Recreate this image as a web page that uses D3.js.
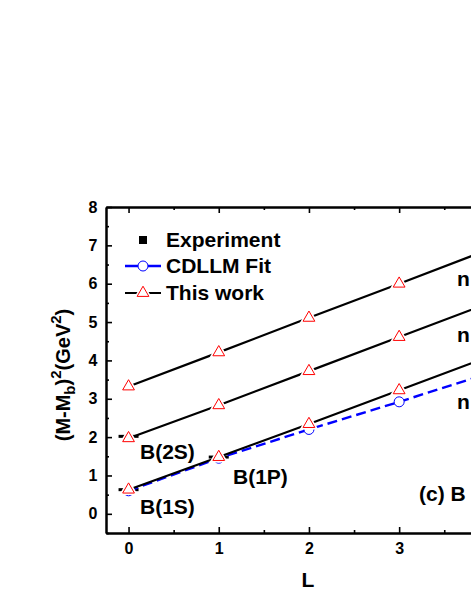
<!DOCTYPE html>
<html>
<head>
<meta charset="utf-8">
<script src="https://cdn.jsdelivr.net/npm/d3@7"></script>
<style>
  body { margin: 0; background: #fff; }
  svg { display: block; font-family: "Liberation Sans", Arial, sans-serif; font-weight: bold; }
</style>
</head>
<body>
<svg width="471" height="609"></svg>
<script>
// orbital quantum number L
var L = [0, 1, 2, 3, 4];
// "This work" Regge trajectories, one per radial n
var thisN1 = [0.63, 1.48, 2.34, 3.22, 4.10];
var thisN2 = [1.97, 2.83, 3.72, 4.61, 5.50];
var thisN3 = [3.32, 4.21, 5.11, 6.00, 6.90];
// CDLLM fit
var cdllm = [0.60, 1.45, 2.20, 2.92, 3.67];
// experiment
var expL = [0, 0, 1];
var expM = [0.63, 2.02, 1.48];
var expNames = ["B(1S)", "B(2S)", "B(1P)"];
var trajNames = ["n", "n", "n"];   // cut at the right edge in the original
var xTicks = [0, 1, 2, 3];
var yTicks = [0, 1, 2, 3, 4, 5, 6, 7, 8];

var svg = d3.select("svg");
var xScale = d3.scaleLinear().domain([-0.25, 4.25]).range([106, 511.9]);
var yScale = d3.scaleLinear().domain([-0.5, 8]).range([533, 207]);

svg.append("clipPath").attr("id", "plot")
  .append("rect").attr("x", 106).attr("y", 207).attr("width", 406).attr("height", 326);

var plot = svg.append("g").attr("clip-path", "url(#plot)");

var line = d3.line().x((d, i) => xScale(L[i])).y(d => yScale(d));

// experiment: short horizontal bars
plot.selectAll("rect.exp")
  .data(expM).enter().append("rect").attr("class", "exp")
  .attr("x", (d, i) => xScale(expL[i]) - 10)
  .attr("y", d => yScale(d) - 1.5)
  .attr("width", 20).attr("height", 3)
  .attr("fill", "black");

// CDLLM fit
plot.append("path").attr("d", line(cdllm))
  .attr("fill", "none").attr("stroke", "#0000ff").attr("stroke-width", 2.4)
  .attr("stroke-dasharray", "10,5");
plot.selectAll("circle.cd")
  .data(cdllm).enter().append("circle").attr("class", "cd")
  .attr("cx", (d, i) => xScale(L[i])).attr("cy", d => yScale(d))
  .attr("r", 5).attr("fill", "white").attr("stroke", "#0000ff").attr("stroke-width", 1);

// this work
var tri = d3.symbol().type(d3.symbolTriangle).size(60);
[thisN1, thisN2, thisN3].forEach(function(s) {
  plot.append("path").attr("d", line(s))
    .attr("fill", "none").attr("stroke", "black").attr("stroke-width", 2.2);
  plot.selectAll(null)
    .data(s).enter().append("path")
    .attr("d", tri)
    .attr("transform", (d, i) => "translate(" + xScale(L[i]) + "," + yScale(d) + ")")
    .attr("fill", "white").attr("stroke", "white").attr("stroke-width", 4);
  plot.selectAll(null)
    .data(s).enter().append("path")
    .attr("d", tri)
    .attr("transform", (d, i) => "translate(" + xScale(L[i]) + "," + yScale(d) + ")")
    .attr("fill", "white").attr("stroke", "#ff0000").attr("stroke-width", 1);
});

// axes, ticks pointing inward
function styleAxis(g) {
  g.selectAll("path.domain").attr("stroke-width", 2);
  g.selectAll(".tick line").attr("stroke-width", 1.6);
  g.selectAll("text").attr("font-size", 16).attr("font-family", null).attr("fill", "black");
}
var minorX = [0.5, 1.5, 2.5, 3.5];
var minorY = [-0.5, 0.5, 1.5, 2.5, 3.5, 4.5, 5.5, 6.5, 7.5];

svg.append("g").attr("transform", "translate(0,533)")
  .call(d3.axisBottom(xScale).tickValues(xTicks).tickSize(-6).tickSizeOuter(0).tickPadding(10).tickFormat(d3.format("d")))
  .call(styleAxis);
svg.append("g").attr("transform", "translate(0,533)")
  .call(d3.axisBottom(xScale).tickValues(minorX).tickSize(-3).tickSizeOuter(0).tickFormat(""))
  .call(styleAxis);
svg.append("g").attr("transform", "translate(0,207)")
  .call(d3.axisTop(xScale).tickValues(xTicks).tickSize(-6).tickSizeOuter(0).tickFormat(""))
  .call(styleAxis);
svg.append("g").attr("transform", "translate(0,207)")
  .call(d3.axisTop(xScale).tickValues(minorX).tickSize(-3).tickSizeOuter(0).tickFormat(""))
  .call(styleAxis);
svg.append("g").attr("transform", "translate(106,0)")
  .call(d3.axisLeft(yScale).tickValues(yTicks).tickSize(-6).tickSizeOuter(0).tickPadding(8.5).tickFormat(d3.format("d")))
  .call(styleAxis);
svg.append("g").attr("transform", "translate(106,0)")
  .call(d3.axisLeft(yScale).tickValues(minorY).tickSize(-3).tickSizeOuter(0).tickFormat(""))
  .call(styleAxis);

// axis titles
svg.append("text").attr("x", 308).attr("y", 587).attr("text-anchor", "middle")
  .attr("font-size", 21).text("L");
var yt = svg.append("text").attr("transform", "translate(70,375) rotate(-90)")
  .attr("text-anchor", "middle").attr("font-size", 20);
yt.append("tspan").text("(M-M");
yt.append("tspan").attr("font-size", 15).attr("dy", 5).text("b");
yt.append("tspan").attr("dy", -5).text(")");
yt.append("tspan").attr("font-size", 15).attr("dy", -9).text("2");
yt.append("tspan").attr("dy", 9).text("(GeV");
yt.append("tspan").attr("font-size", 15).attr("dy", -9).text("2");
yt.append("tspan").attr("dy", 9).text(")");

// state labels
var labelPos = [[140, 514], [140, 459], [233, 484]];
svg.selectAll("text.state").data(expNames).enter().append("text").attr("class", "state")
  .attr("x", (d, i) => labelPos[i][0]).attr("y", (d, i) => labelPos[i][1])
  .attr("font-size", 21).text(d => d);

var nY = [409, 342, 286];
svg.selectAll("text.traj").data(trajNames).enter().append("text").attr("class", "traj")
  .attr("x", 457).attr("y", (d, i) => nY[i]).attr("font-size", 21).text(d => d);

svg.append("text").attr("x", 419).attr("y", 501).attr("font-size", 21).text("(c) B");

// legend
var leg = svg.append("g");
leg.append("rect").attr("x", 139).attr("y", 236).attr("width", 8).attr("height", 8).attr("fill", "black");
leg.append("line").attr("x1", 125).attr("x2", 161).attr("y1", 266).attr("y2", 266)
  .attr("stroke", "#0000ff").attr("stroke-width", 2.4);
leg.append("circle").attr("cx", 143).attr("cy", 266).attr("r", 5)
  .attr("fill", "white").attr("stroke", "#0000ff");
leg.append("line").attr("x1", 125).attr("x2", 161).attr("y1", 293).attr("y2", 293)
  .attr("stroke", "black").attr("stroke-width", 2.2);
leg.append("path").attr("d", tri).attr("transform", "translate(143,293)")
  .attr("fill", "white").attr("stroke", "white").attr("stroke-width", 4);
leg.append("path").attr("d", tri).attr("transform", "translate(143,293)")
  .attr("fill", "white").attr("stroke", "#ff0000");
var legNames = ["Experiment", "CDLLM Fit", "This work"];
var legY = [247, 273, 300];
leg.selectAll("text").data(legNames).enter().append("text")
  .attr("x", 166).attr("y", (d, i) => legY[i]).attr("font-size", 21).text(d => d);
</script>
</body>
</html>
